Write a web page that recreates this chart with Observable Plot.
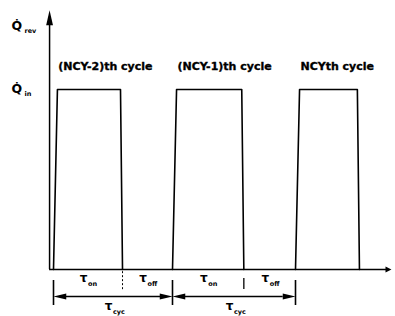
<!DOCTYPE html>
<html><head><meta charset="utf-8">
<script src="https://cdn.jsdelivr.net/npm/d3@7"></script>
<script src="https://cdn.jsdelivr.net/npm/@observablehq/plot@0.6"></script>
<style>body{margin:0;background:#fff}</style>
</head><body><div id="chart"></div>
<script>
// ---- data ----
const cycleStarts = [0, 10, 20];          // start time of each cycle
const onEnds = [5.8, 15.8, 25.2];         // end of the "on" period in each cycle
const cycleLabels = ["(NCY-2)th cycle", "(NCY-1)th cycle", "NCYth cycle"];
const qIn = 1;                            // heat rate level Q_in
const yLabelTexts = [{main: "Q\u0307", sub: "rev", v: 1.33}, {main: "Q\u0307", sub: "in", v: 0.978}];
const tauNames = ["on", "off", "cyc"];

// ---- derived ----
const axisX = -0.33, axisXEnd = 27.8, axisYTop = 1.44;
const pulses = cycleStarts.flatMap((s, i) => {
  const e = onEnds[i];
  return [
    {c: i, t: s, v: 0}, {c: i, t: s + 0.33, v: qIn},
    {c: i, t: e - 0.17, v: qIn}, {c: i, t: e, v: 0}
  ];
});
const spans = cycleStarts.slice(0, 2).map((s, i) => ({a: s, b: cycleStarts[i + 1], on: onEnds[i]}));
const tauMain = spans.flatMap(d => [
  {x: (d.a + d.on) / 2, y: -0.072, sub: tauNames[0], dx: 1},
  {x: (d.on + d.b) / 2, y: -0.072, sub: tauNames[1], dx: 3},
  {x: (d.a + d.b) / 2, y: -0.228, sub: tauNames[2], dx: 1}
]);
const heads = spans.flatMap(d => [{x: d.a, r: -90}, {x: d.b, r: 90}]);

const arrowHead = {
  draw(ctx, size) {
    const r = Math.sqrt(size / Math.PI), L = r * 2.4, w = r * 0.55;
    ctx.moveTo(0, 0); ctx.lineTo(-w, L); ctx.lineTo(w, L); ctx.closePath();
  }
};
const fatHead = {
  draw(ctx, size) {
    const r = Math.sqrt(size / Math.PI), L = r * 1.8, w = r * 0.9;
    ctx.moveTo(0, 0); ctx.lineTo(-w, L); ctx.lineTo(w, L); ctx.closePath();
  }
};

const chart = Plot.plot({
  width: 395, height: 316, margin: 0,
  style: {fontFamily: "DejaVu Sans", background: "white", color: "black"},
  x: {type: "linear", domain: [0, 10, 20], range: [53, 172, 295], axis: null},
  y: {type: "linear", domain: [0, 1], range: [269, 89], axis: null},
  marks: [
    // axes
    Plot.ruleX([axisX], {y1: 0, y2: axisYTop - 0.06, strokeWidth: 1.5}),
    Plot.dot([{x: axisX, y: axisYTop}], {x: "x", y: "y", symbol: arrowHead, r: 6.2, fill: "black", stroke: "none"}),
    Plot.ruleY([0], {x1: axisX, x2: axisXEnd - 0.3, strokeWidth: 1.5}),
    Plot.dot([{x: axisXEnd, y: 0}], {x: "x", y: "y", symbol: fatHead, r: 3.3, rotate: 90, fill: "black", stroke: "none"}),
    // pulses
    Plot.line(pulses, {x: "t", y: "v", z: "c", strokeWidth: 1.6, curve: "linear"}),
    // cycle labels
    Plot.text(cycleLabels, {x: (d, i) => cycleStarts[i] + 0.4, y: 1.128, text: d => d, textAnchor: "start",
      fontWeight: "bold", fontSize: 11, fill: "black", stroke: "black", strokeWidth: 0.35}),
    // y labels
    Plot.text(yLabelTexts, {frameAnchor: "left", y: "v", text: "main", dx: 11, textAnchor: "start",
      lineAnchor: "bottom", fontWeight: "bold", fontSize: 12.5}),
    Plot.text(yLabelTexts, {frameAnchor: "left", y: "v", text: "sub", dx: 24, dy: 3, textAnchor: "start",
      lineAnchor: "bottom", fontWeight: "bold", fontSize: 6.5}),
    // dimension bars and arrows
    Plot.ruleX(cycleStarts, {y1: -0.061, y2: -0.2, strokeWidth: 1.6}),
    Plot.ruleX([onEnds[0]], {y1: -0.012, y2: -0.117, strokeWidth: 1, strokeDasharray: "2,2"}),
    Plot.ruleX([onEnds[1]], {y1: -0.05, y2: -0.111, strokeWidth: 1.3}),
    Plot.ruleY(spans, {y: -0.15, x1: d => d.a + 1, x2: d => d.b - 1, strokeWidth: 1.3}),
    Plot.dot(heads, {x: "x", y: -0.15, rotate: "r", symbol: arrowHead, r: 5.3, fill: "black", stroke: "none"}),
    // tau labels
    Plot.text(tauMain, {x: "x", y: "y", dx: "dx", text: () => "\u03c4", textAnchor: "end", lineAnchor: "bottom",
      fontSize: 12, fontWeight: "bold"}),
    Plot.text(tauMain, {x: "x", y: "y", text: "sub", textAnchor: "start", lineAnchor: "bottom",
      dx: 0, dy: 3.5, fontSize: 6.5, fontWeight: "bold"})
  ]
});
document.getElementById("chart").appendChild(chart);
</script>
</body></html>
